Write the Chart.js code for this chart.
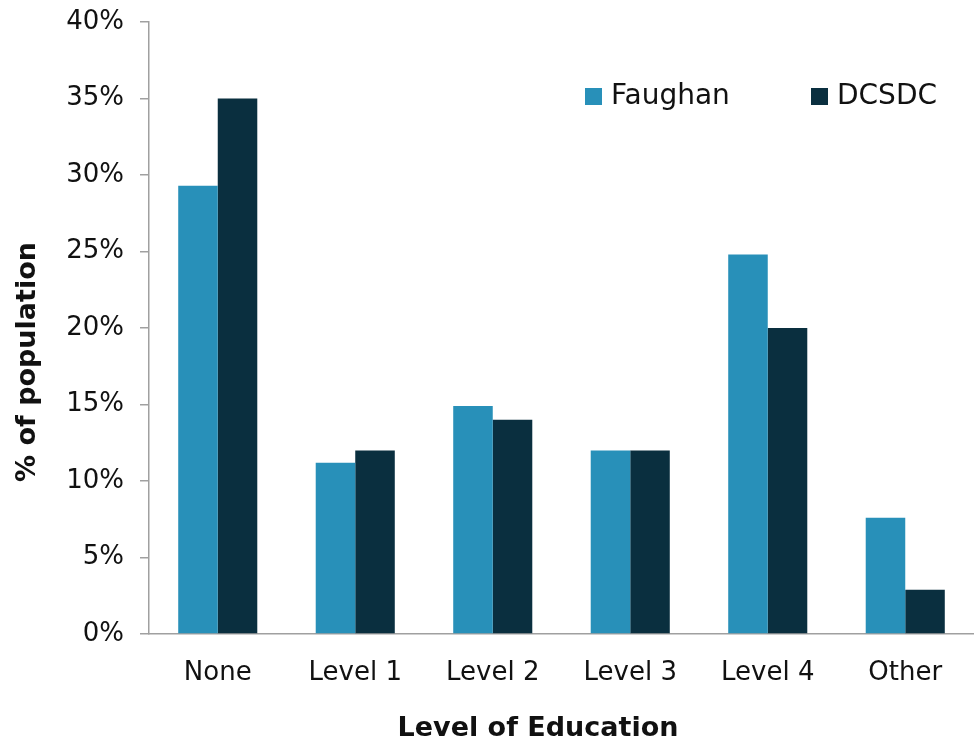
<!DOCTYPE html>
<html>
<head>
<meta charset="utf-8">
<script src="https://cdn.jsdelivr.net/npm/chart.js@4.4.1/dist/chart.umd.min.js"></script>
<style>
  html, body { margin: 0; padding: 0; background: #fff; }
  #wrap { width: 974px; height: 744px; }
</style>
</head>
<body>
<div id="wrap"><canvas id="chart"></canvas></div>
<script>
/* education levels, Faughan vs DCSDC */

const categories = ['None', 'Level 1', 'Level 2', 'Level 3', 'Level 4', 'Other'];
const faughan = [29.3, 11.2, 14.9, 12.0, 24.8, 7.6];
const dcsdc = [35.0, 12.0, 14.0, 12.0, 20.0, 2.9];
const yTicks = [0, 5, 10, 15, 20, 25, 30, 35, 40];
const xTitle = 'Level of Education';
const yTitle = '% of population';

const FONT = '"DejaVu Sans", sans-serif';
const AXIS = '#a0a0a0';

// legend inside the plot (top right) + both axis titles
const extras = {
    id: 'extras',
    afterDraw( chart ) {
        const ctx = chart.ctx;
        const spots = [ 585, 811 ];
        ctx.save();
        ctx.font = '28px ' + FONT;
        ctx.textBaseline = 'middle';
        chart.data.datasets.forEach( ( ds, i ) => {
            ctx.fillStyle = ds.backgroundColor;
            ctx.fillRect( spots[i], 88, 17, 17 );
            ctx.fillStyle = '#111';
            ctx.fillText( ds.label, spots[i] + 26, 97 );
        });

        ctx.font = 'bold 27px ' + FONT;
        ctx.textAlign = 'center';
        ctx.fillText( xTitle, 538, 729 );

        ctx.translate( 28, 362 );
        ctx.rotate( -Math.PI / 2 );
        ctx.fillText( yTitle, 0, 0 );
        ctx.restore();
    }
};

new Chart( document.getElementById('chart'), {
    type: 'bar',
    data: {
        labels: categories,
        datasets: [{
            label: 'Faughan',
            data: faughan,
            backgroundColor: '#2890b9',
            categoryPercentage: 0.575,
            barPercentage: 1.0
        }, {
            label: 'DCSDC',
            data: dcsdc,
            backgroundColor: '#0a2f3f',
            categoryPercentage: 0.575,
            barPercentage: 1.0
        }]
    },
    options: {
        responsive: true,
        maintainAspectRatio: false,
        animation: false,
        layout: { padding: { top: 22, right: 0, left: 0, bottom: 0 } },
        plugins: {
            legend: { display: false },
            tooltip: { enabled: false }
        },
        scales: {
            x: {
                grid: { display: false, drawTicks: false },
                border: { color: AXIS, width: 1.5 },
                ticks: { color: '#111', font: { family: FONT, size: 26 }, padding: 24 },
                afterFit( s ) {
                    s.height = 110;
                    s.paddingLeft = 0;
                    s.paddingRight = 0;
                }
            },
            y: {
                min: 0,
                max: 40,
                afterBuildTicks( s ) { s.ticks = yTicks.map( v => ({ value: v }) ); },
                grid: {
                    drawOnChartArea: false,
                    tickLength: 9,
                    color: AXIS,
                    lineWidth: 1.5
                },
                border: { color: AXIS, width: 1.5 },
                ticks: {
                    color: '#111',
                    font: { family: FONT, size: 26 },
                    padding: 16,
                    callback: v => v + '%'
                },
                afterFit( s ) {
                    s.width = 149;
                    s.paddingTop = 0;
                    s.paddingBottom = 0;
                }
            }
        }
    },
    plugins: [ extras ]
});
</script>
</body>
</html>
